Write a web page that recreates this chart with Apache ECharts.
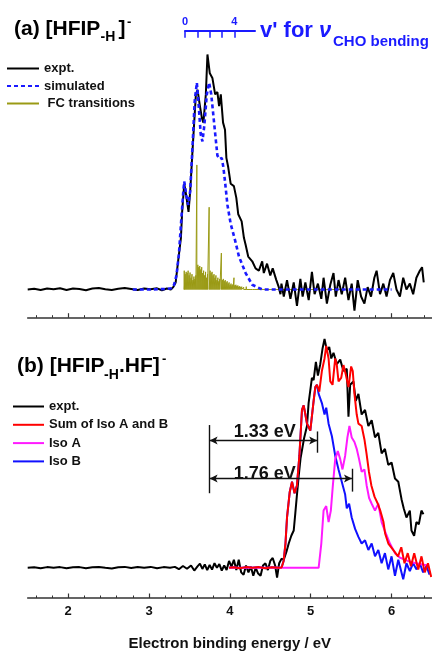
<!DOCTYPE html>
<html>
<head>
<meta charset="utf-8">
<script src="https://cdn.jsdelivr.net/npm/echarts@6/dist/echarts.min.js"></script>
<style>
  html, body { margin: 0; padding: 0; background: #fff; }
  #c { width: 432px; height: 652px; }
</style>
</head>
<body>
<div id="c"></div>
<script>
// ---------- panel (a): [HFIP-H]- ----------
const aExptEnergy = [1.50,1.58,1.66,1.74,1.82,1.90,1.98,2.06,2.14,2.22,2.30,2.38,2.46,2.54,2.62,2.70,2.78,2.86,2.94,3.02,3.10,3.16,3.22,3.27,
  3.30,3.33,3.36,3.395,3.41,3.436,3.46,3.489,3.51,3.538,3.58,3.60,3.63,3.654,3.673,3.703,3.723,3.752,3.784,3.818,3.846,3.867,3.888,3.916,3.94,3.957,3.98,
  4.01,4.05,4.08,4.104,4.146,4.174,4.195,4.227,4.277,4.318,4.359,4.40,4.42,4.46,4.50,4.53,4.55,4.575,4.605,4.626,
  4.638,4.667,4.707,4.749,4.79,4.83,4.872,4.90,4.934,4.975,5.015,5.048,5.089,5.131,5.159,5.20,5.242,5.282,5.31,5.344,5.384,5.426,5.467,5.507,5.541,
  5.581,5.623,5.664,5.704,5.746,5.787,5.815,5.857,5.898,5.938,5.98,6.021,6.061,6.103,6.144,6.184,6.226,6.267,6.307,6.349,6.377,6.398];
const aExptSignal = [0.000,0.003,-0.002,0.004,0.001,0.005,-0.002,0.004,0.002,-0.003,0.004,0.006,0.001,-0.002,0.003,0.006,0.002,-0.002,0.004,0.001,0.005,-0.003,0.004,0.000,
  0.010,0.030,0.120,0.220,0.330,0.450,0.400,0.330,0.420,0.590,0.830,0.850,0.780,0.730,0.710,0.830,1.000,0.920,0.900,0.830,0.840,0.780,0.830,0.710,0.680,0.560,0.520,
  0.450,0.440,0.390,0.320,0.290,0.220,0.190,0.140,0.120,0.090,0.080,0.120,0.070,0.110,0.060,0.090,0.095,0.040,0.010,-0.020,
  0.025,-0.030,0.040,-0.040,0.030,-0.070,0.045,-0.030,0.030,-0.045,0.075,-0.020,0.025,-0.040,0.050,-0.060,0.020,0.070,-0.030,0.040,-0.020,0.050,-0.045,0.025,-0.090,
  0.040,-0.030,-0.060,0.010,-0.030,0.050,0.080,-0.020,0.025,-0.030,0.040,0.070,0.000,-0.030,0.050,0.000,0.025,-0.020,0.050,0.080,0.095,0.030];

const aSimEnergy = [2.80,3.00,3.20,3.28,3.31,3.34,3.37,3.40,3.425,3.436,3.462,3.485,3.51,3.54,3.565,3.592,3.615,3.64,3.661,3.685,3.715,3.744,3.77,3.805,3.846,3.875,3.90,3.92,3.94,3.97,4.01,4.064,4.113,4.195,4.277,4.40,5.00,6.00];
const aSimSignal = [0.000,0.000,0.002,0.005,0.020,0.060,0.150,0.300,0.420,0.460,0.400,0.360,0.420,0.620,0.800,0.880,0.780,0.660,0.630,0.700,0.830,0.880,0.830,0.710,0.570,0.555,0.560,0.520,0.460,0.360,0.280,0.210,0.140,0.070,0.020,0.000,0.000,0.000];

// Franck-Condon stick spectrum
const fcEnergy = [3.436,3.448,3.460,3.472,3.484,3.496,3.508,3.520,3.532,3.544,3.556,3.568,3.580,3.592,3.604,3.616,3.628,3.640,3.652,3.664,3.676,3.688,3.700,3.712,3.724,
  3.744,3.756,3.768,3.780,3.792,3.804,3.816,3.828,3.840,3.852,3.864,3.876,3.895,3.907,3.919,3.931,3.943,3.955,3.967,3.979,3.991,4.003,4.015,4.027,4.039,
  4.051,4.063,4.075,4.087,4.099,4.111,4.123,4.135,4.147,4.159,4.171,4.183,4.203,4.220,4.250,4.280,4.310];
const fcIntensity = [0.080,0.065,0.075,0.070,0.080,0.060,0.072,0.050,0.065,0.040,0.055,0.045,0.060,0.530,0.105,0.095,0.100,0.085,0.095,0.070,0.080,0.060,0.075,0.050,0.065,
  0.350,0.080,0.070,0.075,0.060,0.065,0.050,0.060,0.040,0.050,0.035,0.045,0.155,0.040,0.045,0.035,0.040,0.030,0.035,0.025,0.030,0.020,0.025,0.018,0.022,
  0.050,0.018,0.020,0.015,0.017,0.012,0.014,0.010,0.012,0.008,0.010,0.006,0.012,0.005,0.004,0.003,0.002];
const fcBaselineEnd = 5.446;

// vibrational quantum number scale for the CHO bending mode
const quantaTicks = [0, 1, 2, 3, 4];
const quantaLabels = [0, 4];
const quantaMax = 5.68;

// ---------- panel (b): [HFIP-H.HF]- ----------
const bExptEnergy = [1.50,1.58,1.66,1.74,1.82,1.90,1.98,2.06,2.14,2.22,2.30,2.38,2.46,2.54,2.62,2.70,2.78,2.86,2.94,3.02,3.10,3.18,3.26,3.32,3.37,3.42,3.47,3.52,3.56,
  3.60,3.63,3.66,3.69,3.72,3.75,3.78,3.81,3.84,3.87,3.90,3.93,3.96,3.99,4.02,4.05,4.08,4.11,4.14,4.17,4.20,4.23,4.26,4.29,4.32,4.35,4.38,4.41,4.44,4.47,4.50,
  4.53,4.56,4.584,4.61,4.64,4.667,4.70,4.728,4.76,4.79,4.81,4.83,4.851,4.875,4.90,4.92,4.954,4.974,5.015,5.036,5.064,5.089,5.118,5.147,5.171,5.20,5.229,5.254,
  5.282,5.323,5.365,5.405,5.446,5.467,5.488,5.528,5.557,5.59,5.63,5.672,5.713,5.754,5.795,5.836,5.877,5.918,5.959,6.00,6.042,6.083,6.123,6.15,6.184,6.226,
  6.246,6.279,6.307,6.337,6.369,6.394];
const bExptSignal = [0.000,0.002,-0.002,0.003,0.000,0.003,-0.002,0.002,0.003,-0.002,0.002,0.004,0.000,-0.003,0.002,0.004,-0.001,0.003,0.000,0.004,-0.002,0.003,0.000,0.004,-0.006,0.008,-0.004,0.010,-0.012,
  0.006,0.018,-0.005,0.015,-0.010,0.012,-0.008,0.020,0.000,0.016,-0.012,0.010,-0.010,0.030,0.005,0.035,-0.010,0.035,-0.020,-0.030,0.010,-0.020,0.005,-0.035,0.000,-0.025,-0.035,0.010,0.020,-0.010,0.030,
  0.043,0.010,-0.043,0.020,0.040,0.035,0.070,0.106,0.140,0.163,0.240,0.320,0.400,0.480,0.530,0.570,0.620,0.720,0.830,0.820,0.900,0.840,0.890,0.960,1.000,0.950,0.965,0.915,
  0.940,0.890,0.910,0.860,0.870,0.660,0.800,0.815,0.730,0.760,0.670,0.690,0.620,0.645,0.570,0.590,0.500,0.520,0.450,0.460,0.390,0.376,0.300,0.260,0.220,0.250,
  0.163,0.140,0.200,0.190,0.250,0.234];

const bSumEnergy = [3.99,4.05,4.12,4.20,4.28,4.36,4.44,4.52,4.60,4.64,4.665,4.688,4.707,4.74,4.769,4.80,4.83,4.86,4.892,4.913,4.934,4.954,4.995,5.036,5.057,5.077,
  5.106,5.138,5.171,5.192,5.221,5.242,5.27,5.303,5.323,5.344,5.377,5.405,5.434,5.467,5.50,5.52,5.541,5.569,5.59,5.63,5.665,5.69,5.72,5.75,5.79,5.83,5.86,5.90,
  5.92,5.96,6.02,6.08,6.12,6.16,6.20,6.24,6.28,6.33,6.37,6.41,6.45,6.49];
const bSumSignal = [0.000,0.002,-0.002,0.003,0.000,0.003,-0.002,0.002,0.000,0.001,0.030,0.106,0.220,0.330,0.376,0.326,0.360,0.490,0.690,0.710,0.670,0.630,0.600,0.730,0.790,0.800,
  0.770,0.860,0.915,0.970,0.915,0.815,0.800,0.915,0.886,0.815,0.830,0.886,0.845,0.790,0.880,0.860,0.760,0.670,0.630,0.620,0.560,0.500,0.420,0.360,0.310,0.280,0.250,0.200,
  0.150,0.106,0.078,0.050,0.090,0.020,0.064,0.007,0.064,-0.007,0.050,-0.020,0.020,-0.040];

const bIsoAEnergy = [3.99,4.50,5.00,5.098,5.131,5.159,5.192,5.221,5.249,5.274,5.303,5.335,5.365,5.393,5.426,5.454,5.479,5.507,5.541,5.569,5.598,5.63,5.664,5.692,
  5.722,5.754,5.795,5.836,5.877,5.918,5.98,6.042,6.10,6.20,6.30,6.45];
const bIsoASignal = [0.000,0.000,0.000,0.000,0.106,0.250,0.270,0.200,0.250,0.360,0.475,0.510,0.475,0.430,0.490,0.570,0.620,0.570,0.550,0.520,0.475,0.420,0.430,0.360,
  0.305,0.280,0.250,0.280,0.200,0.160,0.106,0.064,0.045,0.030,0.020,0.010];

const bIsoBEnergy = [3.99,4.05,4.12,4.20,4.28,4.36,4.44,4.52,4.60,4.64,4.665,4.688,4.707,4.74,4.769,4.80,4.83,4.86,4.892,4.913,4.934,4.954,4.995,5.036,5.057,5.077,
  5.098,5.138,5.171,5.192,5.221,5.262,5.303,5.344,5.384,5.426,5.446,5.475,5.507,5.549,5.59,5.63,5.672,5.713,5.754,5.795,5.836,5.877,5.918,5.959,6.00,6.042,
  6.083,6.144,6.184,6.226,6.267,6.307,6.349,6.39,6.43,6.47];
const bIsoBSignal = [0.000,0.002,-0.002,0.003,0.000,0.003,-0.002,0.002,0.000,0.001,0.030,0.106,0.220,0.330,0.376,0.326,0.360,0.490,0.690,0.710,0.670,0.630,0.600,0.730,0.790,0.800,
  0.760,0.720,0.670,0.700,0.630,0.575,0.490,0.430,0.376,0.320,0.260,0.280,0.220,0.170,0.135,0.106,0.120,0.078,0.106,0.050,0.078,0.020,0.064,-0.007,0.050,-0.035,
  0.035,-0.050,0.020,-0.014,0.020,-0.007,0.020,-0.020,0.007,-0.030];

// onset-to-peak energy gaps marked with arrows
const gapStart = 3.75;
const gapLabels = [1.33, 1.76];

// energy axis ticks
const majorTicks = [2, 3, 4, 5, 6];
const minorTicks = [1.6,1.8,2.2,2.4,2.6,2.8,3.2,3.4,3.6,3.8,4.2,4.4,4.6,4.8,5.2,5.4,5.6,5.8,6.2,6.4];

// ---------- helpers ----------
const zip = (xs, ys) => xs.map((x, i) => [x, ys[i]]);
function sticks(es, hs, endE) {
  const pts = [];
  es.forEach((e, i) => { pts.push([e, 0], [e, hs[i]], [e, 0]); });
  pts.push([endE, 0]);
  return pts;
}

const FONT = '"Liberation Sans", Arial, Helvetica, sans-serif';
const BLUE = '#1a1aff';
const OLIVE = '#9a9a14';
const AXIS = '#333';

const PLOT_LEFT = 27.7, PLOT_W = 406.25;

function energyAxes(gridIndex, withLabels) {
  return [
    {
      type: 'value', gridIndex, position: 'bottom', min: 1.5, max: 6.5,
      axisLine: { show: true, onZero: false, lineStyle: { color: AXIS, width: 1.5 } },
      axisTick: { show: true, inside: true, length: 4.5, customValues: majorTicks, lineStyle: { color: AXIS, width: 1.2 } },
      axisLabel: withLabels
        ? { show: true, customValues: majorTicks, margin: 7, color: '#111', fontFamily: FONT, fontWeight: 'bold', fontSize: 13 }
        : { show: false },
      splitLine: { show: false },
      name: withLabels ? 'Electron binding energy / eV' : '',
      nameLocation: 'middle', nameGap: 38,
      nameTextStyle: { color: '#111', fontFamily: FONT, fontWeight: 'bold', fontSize: 15 }
    },
    {
      type: 'value', gridIndex, position: 'bottom', min: 1.5, max: 6.5,
      axisLine: { show: false, onZero: false },
      axisTick: { show: true, inside: true, length: 2.5, customValues: minorTicks, lineStyle: { color: AXIS, width: 1 } },
      axisLabel: { show: false },
      splitLine: { show: false }
    }
  ];
}

const lineBase = { type: 'line', symbol: 'none', showSymbol: false, animation: false, silent: true };

const legendBase = {
  orient: 'vertical', padding: 0, selectedMode: false,
  itemStyle: { opacity: 0, borderWidth: 0 },
  textStyle: { color: '#111', fontFamily: FONT, fontWeight: 'bold', fontSize: 13 }
};

const option = {
  animation: false,
  backgroundColor: '#fff',
  textStyle: { fontFamily: FONT },
  grid: [
    { left: PLOT_LEFT, width: PLOT_W, top: 19.2, height: 298.5 },
    { left: PLOT_LEFT, width: PLOT_W, top: 304.7, height: 301.3 },
    { left: 185, width: 70, top: 30.7, height: 8 }
  ],
  xAxis: [
    ...energyAxes(0, false),
    ...energyAxes(1, true),
    {
      type: 'value', gridIndex: 2, position: 'top', min: 0, max: quantaMax,
      axisLine: { show: true, onZero: false, lineStyle: { color: BLUE, width: 2 } },
      axisTick: { show: true, inside: true, length: 7, customValues: quantaTicks, lineStyle: { color: BLUE, width: 1.5 } },
      axisLabel: { show: true, customValues: quantaLabels, margin: 3, color: BLUE, fontFamily: FONT, fontWeight: 'bold', fontSize: 11 },
      splitLine: { show: false }
    }
  ],
  yAxis: [
    { type: 'value', gridIndex: 0, min: -0.12, max: 1.15, show: false },
    { type: 'value', gridIndex: 1, min: -0.132, max: 1.15, show: false },
    { type: 'value', gridIndex: 2, min: 0, max: 1, show: false }
  ],
  legend: [
    Object.assign({}, legendBase, {
      left: 6, top: 62, itemWidth: 32, itemHeight: 14, itemGap: 4.5,
      data: ['expt.', 'simulated', ' FC transitions']
    }),
    Object.assign({}, legendBase, {
      left: 12, top: 400, itemWidth: 31, itemHeight: 14, itemGap: 5.3,
      data: ['expt.', 'Sum of Iso A and B', 'Iso A', 'Iso B']
    })
  ],
  series: [
    Object.assign({}, lineBase, {
      name: ' FC transitions', xAxisIndex: 0, yAxisIndex: 0,
      data: sticks(fcEnergy, fcIntensity, fcBaselineEnd),
      lineStyle: { color: OLIVE, width: 1 }, itemStyle: { color: OLIVE }
    }),
    Object.assign({}, lineBase, {
      name: 'expt.', xAxisIndex: 0, yAxisIndex: 0,
      data: zip(aExptEnergy, aExptSignal),
      lineStyle: { color: '#000', width: 2 }, itemStyle: { color: '#000' }
    }),
    Object.assign({}, lineBase, {
      name: 'simulated', xAxisIndex: 0, yAxisIndex: 0,
      data: zip(aSimEnergy, aSimSignal),
      lineStyle: { color: BLUE, width: 2.6, type: [4, 3] }, itemStyle: { color: BLUE }
    }),
    Object.assign({}, lineBase, {
      name: 'expt.', xAxisIndex: 2, yAxisIndex: 1,
      data: zip(bExptEnergy, bExptSignal),
      lineStyle: { color: '#000', width: 2 }, itemStyle: { color: '#000' }
    }),
    Object.assign({}, lineBase, {
      name: 'Iso B', xAxisIndex: 2, yAxisIndex: 1,
      data: zip(bIsoBEnergy, bIsoBSignal),
      lineStyle: { color: '#1010ff', width: 2 }, itemStyle: { color: '#1010ff' }
    }),
    Object.assign({}, lineBase, {
      name: 'Iso A', xAxisIndex: 2, yAxisIndex: 1,
      data: zip(bIsoAEnergy, bIsoASignal),
      lineStyle: { color: '#ff1aff', width: 2 }, itemStyle: { color: '#ff1aff' }
    }),
    Object.assign({}, lineBase, {
      name: 'Sum of Iso A and B', xAxisIndex: 2, yAxisIndex: 1,
      data: zip(bSumEnergy, bSumSignal),
      lineStyle: { color: '#ff0000', width: 2 }, itemStyle: { color: '#ff0000' }
    }),
    Object.assign({}, lineBase, {
      name: 'gaps', xAxisIndex: 2, yAxisIndex: 1, data: [],
      markLine: {
        silent: true, animation: false,
        symbol: ['none', 'none'],
        lineStyle: { color: '#111', width: 1.4, type: 'solid' },
        label: { show: false },
        data: [
          [{ coord: [gapStart, 0.624] }, { coord: [gapStart, 0.326] }],
          [{ coord: [gapStart + gapLabels[0], 0.596] }, { coord: [gapStart + gapLabels[0], 0.503] }],
          [{ coord: [gapStart + gapLabels[1], 0.433] }, { coord: [gapStart + gapLabels[1], 0.333] }],
          ...gapLabels.map((g, i) => [
            {
              coord: [gapStart, i === 0 ? 0.556 : 0.390], symbol: 'arrow', symbolSize: [6, 8],
              label: {
                show: true, position: 'insideStartTop', distance: [24, i === 0 ? -0.5 : -4],
                formatter: g.toFixed(2) + ' eV',
                color: '#111', fontFamily: FONT, fontWeight: 'bold', fontSize: 18
              }
            },
            { coord: [gapStart + g, i === 0 ? 0.556 : 0.390], symbol: 'arrow', symbolSize: [6, 8] }
          ])
        ]
      }
    })
  ],
  graphic: [
    { type: 'text', x: 14, y: 29.5, style: { text: '(a) [HFIP', font: `bold 21px ${FONT}`, fill: '#000', verticalAlign: 'middle' } },
    { type: 'text', x: 100.5, y: 37, style: { text: '-H', font: `bold 14px ${FONT}`, fill: '#000', verticalAlign: 'middle' } },
    { type: 'text', x: 118.5, y: 29.5, style: { text: ']', font: `bold 21px ${FONT}`, fill: '#000', verticalAlign: 'middle' } },
    { type: 'text', x: 127, y: 22, style: { text: '-', font: `bold 13px ${FONT}`, fill: '#000', verticalAlign: 'middle' } },

    { type: 'text', x: 17, y: 366.5, style: { text: '(b) [HFIP', font: `bold 21px ${FONT}`, fill: '#000', verticalAlign: 'middle' } },
    { type: 'text', x: 104, y: 375, style: { text: '-H', font: `bold 14px ${FONT}`, fill: '#000', verticalAlign: 'middle' } },
    { type: 'text', x: 119, y: 366.5, style: { text: '.HF]', font: `bold 21px ${FONT}`, fill: '#000', verticalAlign: 'middle' } },
    { type: 'text', x: 162, y: 359, style: { text: '-', font: `bold 13px ${FONT}`, fill: '#000', verticalAlign: 'middle' } },

    { type: 'text', x: 260, y: 31, style: { text: "v' for ", font: `bold 22px ${FONT}`, fill: BLUE, verticalAlign: 'middle' } },
    { type: 'text', x: 319, y: 31, style: { text: 'ν', font: `italic bold 22px ${FONT}`, fill: BLUE, verticalAlign: 'middle' } },
    { type: 'text', x: 333, y: 41.5, style: { text: 'CHO bending', font: `bold 15px ${FONT}`, fill: BLUE, verticalAlign: 'middle' } }
  ]
};

const chart = echarts.init(document.getElementById('c'), null, { renderer: 'canvas' });
chart.setOption(option);
</script>
</body>
</html>
